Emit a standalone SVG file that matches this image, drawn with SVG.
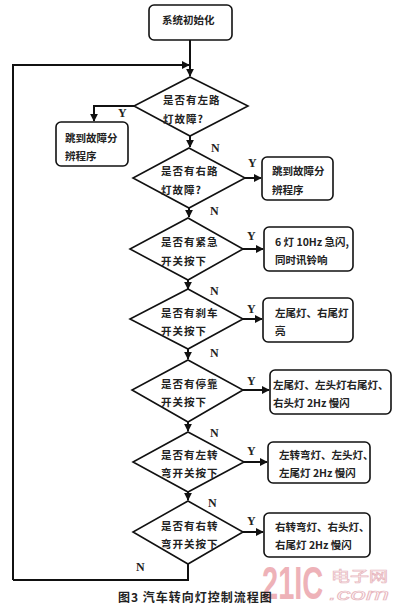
<svg xmlns="http://www.w3.org/2000/svg" width="400" height="609" viewBox="0 0 400 609">
<style>
.bg{fill:#fff}
.box{fill:#fff;stroke:#111;stroke-width:1.6}
.dia{fill:#fff;stroke:#111;stroke-width:1.6}
.ln{fill:none;stroke:#111;stroke-width:2}
.t{font-family:"Noto Sans CJK SC","Liberation Sans",sans-serif;font-size:10.5px;font-weight:bold;fill:#222}
.q{font-family:"Noto Sans CJK SC","Liberation Sans",sans-serif;font-size:10.5px;font-weight:bold;fill:#222;letter-spacing:1px}
.yn{font-family:"Liberation Serif",serif;font-size:12px;font-weight:bold;fill:#222}
.cap{font-family:"Noto Sans CJK SC","Liberation Sans",sans-serif;font-size:12px;font-weight:bold;fill:#222;letter-spacing:1px}
</style>
<defs>
<marker id="ah" viewBox="0 0 10 10" refX="9" refY="5" markerWidth="4" markerHeight="4" orient="auto">
<path d="M0,0 L10,5 L0,10 z" fill="#111"/>
</marker>
</defs>
<rect class="bg" width="400" height="609"/>
<g id="connectors">
<path class="ln" d="M190,40 V76" marker-end="url(#ah)"/>
<path class="ln" d="M13,580 V65 H189" marker-end="url(#ah)"/>
<path class="ln" d="M134,106 H94 V121" marker-end="url(#ah)"/>
<path class="ln" d="M190,136 V147" marker-end="url(#ah)"/>
<path class="ln" d="M245,178 H261" marker-end="url(#ah)"/>
<path class="ln" d="M189,208 V217" marker-end="url(#ah)"/>
<path class="ln" d="M243,249 H263" marker-end="url(#ah)"/>
<path class="ln" d="M188,280 V289" marker-end="url(#ah)"/>
<path class="ln" d="M243,319 H262" marker-end="url(#ah)"/>
<path class="ln" d="M188,349 V359" marker-end="url(#ah)"/>
<path class="ln" d="M243,390 H269" marker-end="url(#ah)"/>
<path class="ln" d="M188,422 V431" marker-end="url(#ah)"/>
<path class="ln" d="M244,462 H267" marker-end="url(#ah)"/>
<path class="ln" d="M188,492 V500" marker-end="url(#ah)"/>
<path class="ln" d="M243,532 H263" marker-end="url(#ah)"/>
<path class="ln" d="M188,564 V580 H13"/>
<text class="yn" x="118" y="117">Y</text>
<text class="yn" x="211" y="152">N</text>
<text class="yn" x="248" y="167">Y</text>
<text class="yn" x="210" y="215">N</text>
<text class="yn" x="247" y="240">Y</text>
<text class="yn" x="210" y="295">N</text>
<text class="yn" x="247" y="313">Y</text>
<text class="yn" x="210" y="357">N</text>
<text class="yn" x="247" y="385">Y</text>
<text class="yn" x="210" y="437">N</text>
<text class="yn" x="247" y="455">Y</text>
<text class="yn" x="208" y="507">N</text>
<text class="yn" x="247" y="525">Y</text>
<text class="yn" x="136" y="571">N</text>
</g>
<g id="start">
<rect class="box" x="149" y="5" width="83" height="35" rx="5"/>
<text class="t" x="162" y="24">系统初始化</text>
</g>
<g id="d1">
<polygon class="dia" points="190,77 248,106 190,136 134,106"/>
<text class="q" x="163" y="104">是否有左路</text>
<text class="q" x="163" y="123">灯故障?</text>
</g>
<g id="b1">
<rect class="box" x="56" y="122" width="72" height="44" rx="5"/>
<text class="t" x="65" y="142">跳到故障分</text>
<text class="t" x="65" y="160">辨程序</text>
</g>
<g id="d2">
<polygon class="dia" points="189,148 245,178 189,208 133,178"/>
<text class="q" x="161" y="175">是否有右路</text>
<text class="q" x="161" y="194">灯故障?</text>
</g>
<g id="b2">
<rect class="box" x="262" y="157" width="71" height="43" rx="5"/>
<text class="t" x="272" y="175">跳到故障分</text>
<text class="t" x="272" y="194">辨程序</text>
</g>
<g id="d3">
<polygon class="dia" points="188,218 243,249 188,280 130,249"/>
<text class="q" x="161" y="246">是否有紧急</text>
<text class="q" x="161" y="265">开关按下</text>
</g>
<g id="b3">
<rect class="box" x="264" y="227" width="89" height="44" rx="5"/>
<text class="t" x="275" y="246">6 灯 10Hz 急闪,</text>
<text class="t" x="275" y="264">同时讯铃响</text>
</g>
<g id="d4">
<polygon class="dia" points="188,289 243,319 188,349 130,319"/>
<text class="q" x="161" y="317">是否有刹车</text>
<text class="q" x="161" y="335">开关按下</text>
</g>
<g id="b4">
<rect class="box" x="263" y="298" width="90" height="44" rx="5"/>
<text class="t" x="275" y="317">左尾灯、右尾灯</text>
<text class="t" x="275" y="335">亮</text>
</g>
<g id="d5">
<polygon class="dia" points="188,360 243,390 188,422 132,390"/>
<text class="q" x="161" y="388">是否有停靠</text>
<text class="q" x="161" y="406">开关按下</text>
</g>
<g id="b5">
<rect class="box" x="270" y="370" width="121" height="44" rx="5"/>
<text class="t" x="273" y="389">左尾灯、左头灯右尾灯、</text>
<text class="t" x="273" y="407">右头灯 2Hz 慢闪</text>
</g>
<g id="d6">
<polygon class="dia" points="188,432 244,462 188,492 133,462"/>
<text class="q" x="161" y="459">是否有左转</text>
<text class="q" x="161" y="477">弯开关按下</text>
</g>
<g id="b6">
<rect class="box" x="268" y="442" width="102" height="41" rx="5"/>
<text class="t" x="279" y="459">左转弯灯、左头灯、</text>
<text class="t" x="279" y="477">左尾灯 2Hz 慢闪</text>
</g>
<g id="d7">
<polygon class="dia" points="188,501 243,532 188,564 133,532"/>
<text class="q" x="161" y="530">是否有右转</text>
<text class="q" x="161" y="548">弯开关按下</text>
</g>
<g id="b7">
<rect class="box" x="264" y="513" width="106" height="44" rx="5"/>
<text class="t" x="275" y="531">右转弯灯、右头灯、</text>
<text class="t" x="275" y="549">右尾灯 2Hz 慢闪</text>
</g>
<g id="watermark">
<text transform="translate(262,599) scale(1,1.6)" font-family="Liberation Sans,sans-serif" font-size="29" font-weight="bold" fill="#eeb2b8">21IC</text>
<text x="331" y="581" font-family="Noto Sans CJK SC,sans-serif" font-size="14" fill="none" stroke="#e8b8c0" stroke-width="0.7" textLength="57" lengthAdjust="spacingAndGlyphs">电子网</text>
<text x="329" y="600" font-family="Liberation Sans,sans-serif" font-size="16" font-style="italic" fill="none" stroke="#e8b8c0" stroke-width="0.7" textLength="60" lengthAdjust="spacingAndGlyphs">.com</text>
</g>
<g id="caption">
<text class="cap" x="118" y="602">图3  汽车转向灯控制流程图</text>
</g>
</svg>
